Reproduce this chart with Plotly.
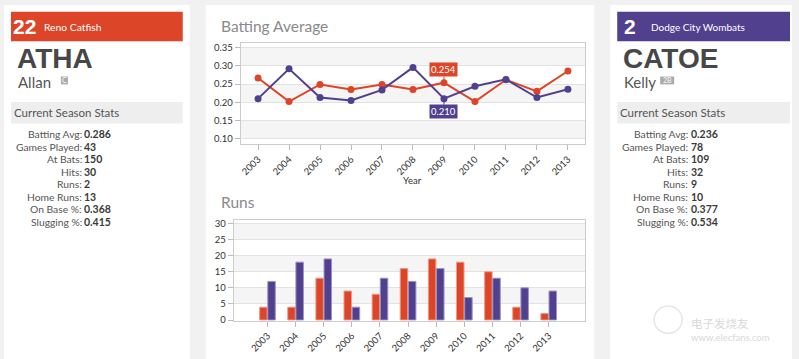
import plotly.graph_objects as go

# ---------------- data ----------------
years = ["2003", "2004", "2005", "2006", "2007", "2008", "2009", "2010", "2011", "2012", "2013"]
atha_avg = [0.267, 0.202, 0.249, 0.235, 0.249, 0.235, 0.254, 0.202, 0.262, 0.230, 0.286]
catoe_avg = [0.210, 0.292, 0.213, 0.205, 0.234, 0.296, 0.210, 0.244, 0.263, 0.213, 0.236]
atha_runs = [4, 4, 13, 9, 8, 16, 19, 18, 15, 4, 2]
catoe_runs = [12, 18, 19, 4, 13, 12, 16, 7, 13, 10, 9]

stat_labels = ["Batting Avg:", "Games Played:", "At Bats:", "Hits:", "Runs:",
               "Home Runs:", "On Base %:", "Slugging %:"]
atha_stats = ["0.286", "43", "150", "30", "2", "13", "0.368", "0.415"]
catoe_stats = ["0.236", "78", "109", "32", "9", "10", "0.377", "0.534"]

highlight_year = "2009"

RED = "#dc4527"
PURPLE = "#51408e"
W, H = 799, 359
FONT = "Lato, 'Open Sans', sans-serif"
HEAVY = "'Liberation Sans', Arial, sans-serif"


def px(x):
    return x / W


def py(y):
    return 1 - y / H


fig = go.Figure()

# batting average lines
fig.add_trace(go.Scatter(x=years, y=atha_avg, mode="lines+markers", name="Atha",
                         line=dict(color=RED, width=2),
                         marker=dict(size=7, color=RED), xaxis="x", yaxis="y"))
fig.add_trace(go.Scatter(x=years, y=catoe_avg, mode="lines+markers", name="Catoe",
                         line=dict(color=PURPLE, width=2),
                         marker=dict(size=7, color=PURPLE), xaxis="x", yaxis="y"))

# runs bars
fig.add_trace(go.Bar(x=years, y=atha_runs, name="Atha runs",
                     marker=dict(color=RED, line=dict(color="#ef9a86", width=1)),
                     xaxis="x2", yaxis="y2"))
fig.add_trace(go.Bar(x=years, y=catoe_runs, name="Catoe runs",
                     marker=dict(color=PURPLE, line=dict(color="#9c92c4", width=1)),
                     xaxis="x2", yaxis="y2"))

shapes = []
# cards
for x0, x1 in [(3, 189), (205, 594), (610, 792)]:
    shapes.append(dict(type="rect", xref="paper", yref="paper", x0=px(x0), x1=px(x1), y0=py(H + 5), y1=py(3),
                       fillcolor="white", line=dict(width=0), layer="below"))
# header bars
shapes.append(dict(type="rect", xref="paper", yref="paper", x0=px(10), x1=px(182), y0=py(40), y1=py(10),
                   fillcolor=RED, line=dict(width=0), layer="below"))
shapes.append(dict(type="rect", xref="paper", yref="paper", x0=px(617), x1=px(790), y0=py(40), y1=py(10),
                   fillcolor=PURPLE, line=dict(width=0), layer="below"))
# stats header bars
for x0, x1 in [(10, 182), (617, 790)]:
    shapes.append(dict(type="rect", xref="paper", yref="paper", x0=px(x0), x1=px(x1), y0=py(124), y1=py(102),
                       fillcolor="#eeeeee", line=dict(width=0), layer="below"))
# badges
for x0, x1 in [(60, 67), (660, 674)]:
    shapes.append(dict(type="rect", xref="paper", yref="paper", x0=px(x0), x1=px(x1), y0=py(84), y1=py(76),
                       fillcolor="#aaaaaa", line=dict(width=0), layer="below"))
# watermark circle
shapes.append(dict(type="circle", xref="paper", yref="paper", x0=px(654), x1=px(682), y0=py(338), y1=py(310),
                   fillcolor="rgba(0,0,0,0)", line=dict(color="#e6e6e6", width=1.5), layer="below"))
# alternating bands
for a, b in [(0.30, 0.35), (0.20, 0.25), (0.10, 0.15)]:
    shapes.append(dict(type="rect", xref="x domain", yref="y", x0=0, x1=1, y0=a, y1=b,
                       fillcolor="#f5f5f5", line=dict(width=0), layer="below"))
for a, b in [(25, 30), (15, 20), (5, 10)]:
    shapes.append(dict(type="rect", xref="x2 domain", yref="y2", x0=0, x1=1, y0=a, y1=b,
                       fillcolor="#f5f5f5", line=dict(width=0), layer="below"))

ann = []


def text(x, y, s, size, color, family=FONT, xanchor="left", weight=None):
    f = dict(size=size, color=color, family=family)
    if weight:
        f["weight"] = weight
    ann.append(dict(xref="paper", yref="paper", x=px(x), y=py(y), text=s, showarrow=False,
                    xanchor=xanchor, yanchor="middle", font=f, borderpad=0))


# left card
text(11, 25, "22", 21, "white", HEAVY, weight=900)
text(42, 25, "Reno Catfish", 10.3, "white")
text(15, 58, "ATHA", 28, "#474747", HEAVY, weight=900)
text(16, 82, "Allan", 15, "#555555")
text(63.5, 80, "C", 7, "white", xanchor="center")
text(12, 113, "Current Season Stats", 11.5, "#555555")
# right card
text(623, 25, "2", 21, "white", HEAVY, weight=900)
text(650, 25, "Dodge City Wombats", 10, "white")
text(622, 58, "CATOE", 28, "#474747", HEAVY, weight=900)
text(623, 82, "Kelly", 15, "#555555")
text(667, 80, "2B", 7, "white", xanchor="center")
text(619, 113, "Current Season Stats", 11.5, "#555555")

for i, lab in enumerate(stat_labels):
    yy = 135 + i * 12.7
    text(82, yy, lab, 10.3, "#555555", xanchor="right")
    text(82.5, yy, "<b>" + atha_stats[i] + "</b>", 10.5, "#3a3a3a")
    text(689, yy, lab, 10.3, "#555555", xanchor="right")
    text(689.5, yy, "<b>" + catoe_stats[i] + "</b>", 10.5, "#3a3a3a")

# chart titles
text(219, 24, "Batting Average", 15.5, "#8a8a8a")
text(219, 204, "Runs", 15.5, "#8a8a8a")
text(412, 182, "Year", 9.5, "#333333", xanchor="center")

# watermark
text(690, 327, "电子发烧友", 11.5, "#d8d8d8", family="'Noto Sans CJK SC'")
text(690, 342, "www.elecfans.com", 9.5, "#d8d8d8")

# highlight labels (category index of the highlighted year)
hi = years.index(highlight_year)
ann.append(dict(x=hi, y=atha_avg[hi], xref="x", yref="y", text=f"{atha_avg[hi]:.3f}",
                showarrow=True, arrowhead=0, arrowcolor=RED, arrowwidth=1, ax=0, ay=-13,
                bgcolor=RED, font=dict(size=9.5, color="white", family=FONT), borderpad=1))
ann.append(dict(x=hi, y=catoe_avg[hi], xref="x", yref="y", text=f"{catoe_avg[hi]:.3f}",
                showarrow=True, arrowhead=0, arrowcolor=PURPLE, arrowwidth=1, ax=0, ay=13,
                bgcolor=PURPLE, font=dict(size=9.5, color="white", family=FONT), borderpad=1))

axis_common = dict(showline=True, mirror=True, linecolor="#cccccc", linewidth=1,
                   ticks="outside", ticklen=5, tickcolor="#bbbbbb",
                   tickfont=dict(size=9.5, color="#333333", family=FONT))

fig.update_layout(
    width=W, height=H, margin=dict(l=0, r=0, t=0, b=0),
    paper_bgcolor="#f1f1f1", plot_bgcolor="rgba(0,0,0,0)",
    showlegend=False, barmode="group", bargap=0.42, bargroupgap=0.08,
    shapes=shapes, annotations=ann,
    xaxis=dict(domain=[px(240), px(585)], anchor="y", type="category", range=[-0.56, 10.56],
               tickangle=-45, showgrid=False, **axis_common),
    yaxis=dict(domain=[py(145), py(42)], anchor="x", range=[0.0846, 0.3627],
               tickvals=[0.10, 0.15, 0.20, 0.25, 0.30, 0.35], tickformat=".2f",
               showgrid=True, gridcolor="#e2e2e2", zeroline=False, **axis_common),
    xaxis2=dict(domain=[px(233), px(585)], anchor="y2", type="category", range=[-1.2, 11.3],
                tickangle=-45, showgrid=False, **axis_common),
    yaxis2=dict(domain=[py(325), py(222)], anchor="x2", range=[-0.2, 31.2],
                tickvals=[0, 5, 10, 15, 20, 25, 30],
                showgrid=True, gridcolor="#e2e2e2", zeroline=False, **axis_common),
)

fig.write_html("out.html", config={"displayModeBar": False},
               post_script="document.body.style.margin='0';")
